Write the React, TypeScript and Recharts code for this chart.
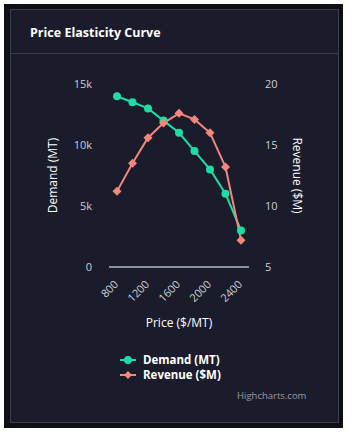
import { LineChart, Line, XAxis, YAxis, Legend, Label } from 'recharts'

const prices = [800, 1000, 1200, 1400, 1600, 1800, 2000, 2200, 2400]
const demand = [14000, 13500, 13000, 12000, 11000, 9500, 8000, 6000, 3000]
const revenue = [11.2, 13.5, 15.6, 16.8, 17.6, 17.1, 16.0, 13.2, 7.2]
const demandTicks = [0, 5000, 10000, 15000]
const revenueTicks = [5, 10, 15, 20]

const data = prices.map((p, i) => ({ price: p, demand: demand[i], revenue: revenue[i] }))

const GREEN = '#1fdca6'
const SALMON = '#f4877c'
const FONT = '"Open Sans", "Noto Sans", sans-serif'

function Diamond(props: any) {
    const { cx, cy } = props
    if (cx == null || cy == null) return null
    const s = 4.5
    return <path d={`M${cx},${cy - s}L${cx + s},${cy}L${cx},${cy + s}L${cx - s},${cy}Z`} fill={SALMON} />
}

function XTick(props: any) {
    const { x, y, payload } = props
    return (
        <text
            x={x + 2}
            y={y + 10}
            transform={`rotate(-45 ${x + 2} ${y + 10})`}
            textAnchor="end"
            fill="#cdced4"
            fontSize={11}
            fontFamily={FONT}
        >
            {payload.value}
        </text>
    )
}

function AxisTitle(props: any) {
    const { viewBox, title, shift, rot } = props
    const cx = viewBox.x + shift
    const cy = viewBox.y + viewBox.height / 2
    return (
        <text
            x={cx}
            y={cy}
            transform={`rotate(${rot} ${cx} ${cy})`}
            textAnchor="middle"
            dominantBaseline="central"
            fill="#ffffff"
            fontSize={12}
            fontFamily={FONT}
        >
            {title}
        </text>
    )
}

function PriceTitle(props: any) {
    const { viewBox } = props
    return (
        <text
            x={viewBox.x + viewBox.width / 2}
            y={viewBox.y + 55}
            textAnchor="middle"
            dominantBaseline="central"
            fill="#ffffff"
            fontSize={12}
            fontFamily={FONT}
        >
            Price ($/MT)
        </text>
    )
}

function LegendBox() {
    const items = [
        { name: 'Demand (MT)', color: GREEN, diamond: false },
        { name: 'Revenue ($M)', color: SALMON, diamond: true }
    ]
    return (
        <div style={{ fontFamily: FONT, fontSize: 11.5, fontWeight: 700, color: '#fff', lineHeight: '15px' }}>
            {items.map(it => (
                <div key={it.name} style={{ display: 'flex', alignItems: 'center', height: 15 }}>
                    <svg width={16} height={10} style={{ marginRight: 7 }}>
                        <line x1={0} y1={5} x2={16} y2={5} stroke={it.color} strokeWidth={2} />
                        {it.diamond
                            ? <path d="M8,1L12,5L8,9L4,5Z" fill={it.color} />
                            : <circle cx={8} cy={5} r={4} fill={it.color} />}
                    </svg>
                    <span>{it.name}</span>
                </div>
            ))}
        </div>
    )
}

export default function App() {
    return (
        <div style={{ position: 'relative', width: 352, height: 433, background: '#fff' }}>
            <style>{`body{margin:0;background:#fff}`}</style>
            <div style={{ position: 'absolute', left: 4, top: 4, width: 339, height: 424, background: '#0e0f13' }} />
            <div
                style={{
                    position: 'absolute',
                    left: 10,
                    top: 9,
                    width: 327,
                    height: 412,
                    background: '#1b1c2b',
                    border: '1px solid #3c3e4f'
                }}
            />
            <div
                style={{
                    position: 'absolute',
                    left: 30,
                    top: 24,
                    fontFamily: FONT,
                    fontWeight: 700,
                    fontSize: 12.5,
                    color: '#fff'
                }}
            >
                Price Elasticity Curve
            </div>
            <div style={{ position: 'absolute', left: 11, top: 53, width: 327, height: 1, background: '#3c3e4f' }} />

            <div style={{ position: 'absolute', left: 0, top: 0 }}>
                <LineChart
                    width={352}
                    height={340}
                    data={data}
                    margin={{ top: 84, right: 43, bottom: 0, left: 40 }}
                >
                    <XAxis
                        dataKey="price"
                        interval={1}
                        height={73}
                        padding={{ left: 8, right: 8 }}
                        tick={<XTick />}
                        tickLine={false}
                        axisLine={{ stroke: '#8c8f9c', strokeWidth: 2 }}
                    >
                        <Label content={<PriceTitle />} />
                    </XAxis>
                    <YAxis
                        yAxisId="left"
                        width={69}
                        domain={[0, 15000]}
                        ticks={demandTicks}
                        tickFormatter={(v: number) => (v === 0 ? '0' : `${v / 1000}k`)}
                        tickLine={false}
                        axisLine={false}
                        tickSize={0}
                        tickMargin={17}
                        tick={{ fill: '#cdced4', fontSize: 11, fontFamily: FONT }}
                    >
                        <Label content={<AxisTitle title="Demand (MT)" shift={12} rot={-90} />} />
                    </YAxis>
                    <YAxis
                        yAxisId="right"
                        orientation="right"
                        width={60}
                        domain={[5, 20]}
                        ticks={revenueTicks}
                        tickLine={false}
                        axisLine={false}
                        tickSize={0}
                        tickMargin={16}
                        tick={{ fill: '#cdced4', fontSize: 11, fontFamily: FONT, textAnchor: 'start' }}
                    >
                        <Label content={<AxisTitle title="Revenue ($M)" shift={48} rot={90} />} />
                    </YAxis>
                    <Line
                        yAxisId="left"
                        dataKey="demand"
                        name="Demand (MT)"
                        stroke={GREEN}
                        strokeWidth={2}
                        dot={{ r: 4, fill: GREEN, stroke: 'none' }}
                        activeDot={false}
                        isAnimationActive={false}
                    />
                    <Line
                        yAxisId="right"
                        dataKey="revenue"
                        name="Revenue ($M)"
                        stroke={SALMON}
                        strokeWidth={2}
                        dot={<Diamond />}
                        activeDot={false}
                        isAnimationActive={false}
                    />
                    <Legend
                        layout="vertical"
                        align="center"
                        verticalAlign="middle"
                        content={<LegendBox />}
                        wrapperStyle={{ left: 120, top: 352, width: 150 }}
                    />
                </LineChart>
            </div>

            <div
                style={{
                    position: 'absolute',
                    left: 237,
                    top: 389,
                    fontFamily: FONT,
                    fontSize: 9.5,
                    color: '#9a9ba3'
                }}
            >
                Highcharts.com
            </div>
        </div>
    )
}
